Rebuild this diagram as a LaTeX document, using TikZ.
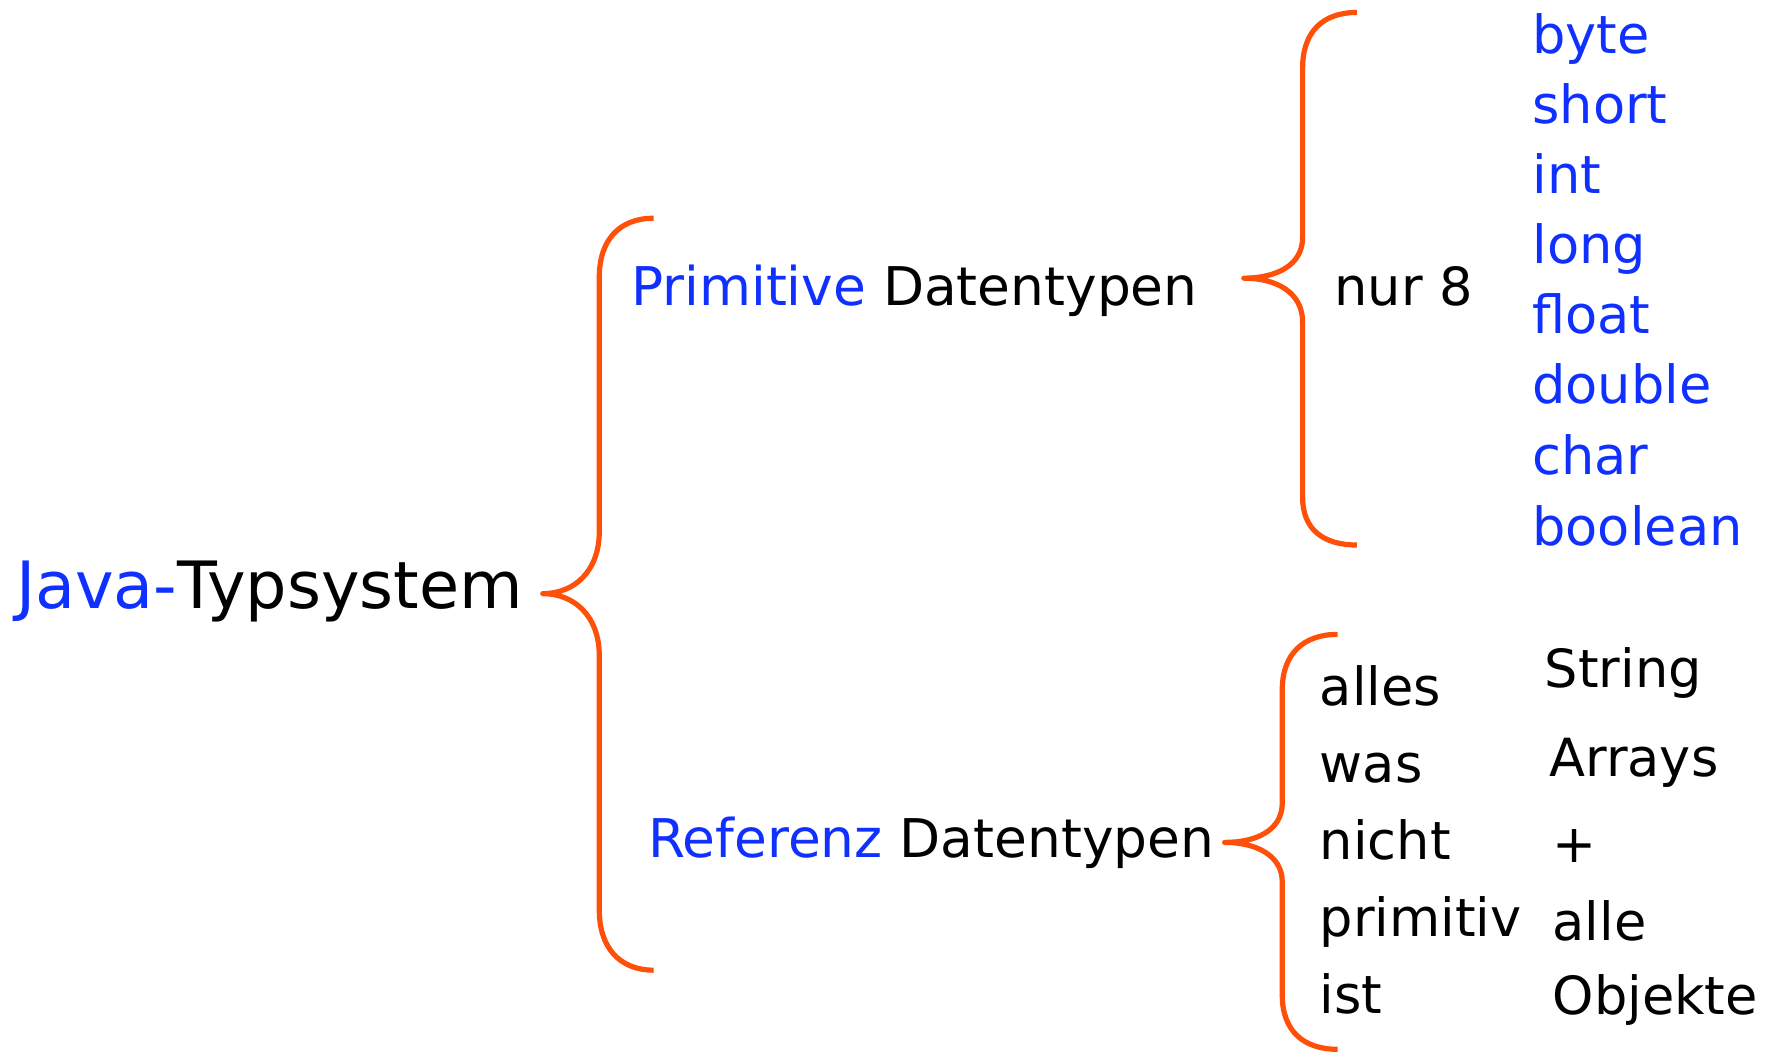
\documentclass[tikz,border=0pt]{standalone}
\usepackage{fontspec}
\setmainfont{DejaVu Sans}
\definecolor{jblue}{RGB}{16,48,255}
\definecolor{bracecol}{RGB}{255,80,10}
\begin{document}
\begin{tikzpicture}[x=1pt,y=-1pt,
  txt/.style={anchor=base west,inner sep=0pt,font=\fontsize{46.5}{50}\selectfont},
  btxt/.style={txt,text=jblue},
  mid/.style={anchor=base west,inner sep=0pt,font=\fontsize{47.2}{50}\selectfont},
  big/.style={anchor=base west,inner sep=0pt,font=\fontsize{57.7}{60}\selectfont},
  br/.style={draw=bracecol,line width=4.6pt,line join=round}]
\fill[white] (0,0) rectangle (1568,931);
\useasboundingbox (0,0) rectangle (1568,931);
% texts
\node[big] (root) at (14,538) {\textcolor{jblue}{Java-}Typsystem};
\node[mid] (prim) at (558,270) {\textcolor{jblue}{Primitive} Datentypen};
\node[mid] (ref) at (573,758) {\textcolor{jblue}{Referenz} Datentypen};
\node[txt] (nur) at (1180,270) {nur 8};
\node[btxt] (t1) at (1355,47) {byte};
\node[btxt] (t2) at (1355,109) {short};
\node[btxt] (t3) at (1355,171) {int};
\node[btxt] (t4) at (1355,233) {long};
\node[btxt] (t5) at (1355,295) {float};
\node[btxt] (t6) at (1355,357) {double};
\node[btxt] (t7) at (1355,420) {char};
\node[btxt] (t8) at (1355,482) {boolean};
\node[txt] (a1) at (1167,624) {alles};
\node[txt] (a2) at (1167,692) {was};
\node[txt] (a3) at (1167,760) {nicht};
\node[txt] (a4) at (1167,828) {primitiv};
\node[txt] (a5) at (1167,896) {ist};
\node[txt] (b1) at (1366,608) {String};
\node[txt] (b2) at (1370,687) {Arrays};
\node[txt] (b3) at (1373,763) {+};
\node[txt] (b4) at (1373,832) {alle};
\node[txt] (b5) at (1373,897) {Objekte};
% braces
\draw[br] (578,193) .. controls (548,193) and (530,212) .. (530,245) -- (530,470)
  .. controls (530,505) and (508,525) .. (480,525)
  .. controls (508,525) and (530,545) .. (530,580) -- (530,805)
  .. controls (530,838) and (548,858) .. (578,858);
\draw[br] (1200,11) .. controls (1170,11) and (1152,28) .. (1152,60) -- (1152,210)
  .. controls (1152,235) and (1128,246) .. (1100,246)
  .. controls (1128,246) and (1152,258) .. (1152,285) -- (1152,440)
  .. controls (1152,468) and (1170,482) .. (1200,482);
\draw[br] (1183,561) .. controls (1153,561) and (1134,578) .. (1134,610) -- (1134,710)
  .. controls (1134,735) and (1110,745) .. (1083,745)
  .. controls (1110,745) and (1134,756) .. (1134,780) -- (1134,880)
  .. controls (1134,912) and (1153,928) .. (1183,928);
\end{tikzpicture}
\end{document}
